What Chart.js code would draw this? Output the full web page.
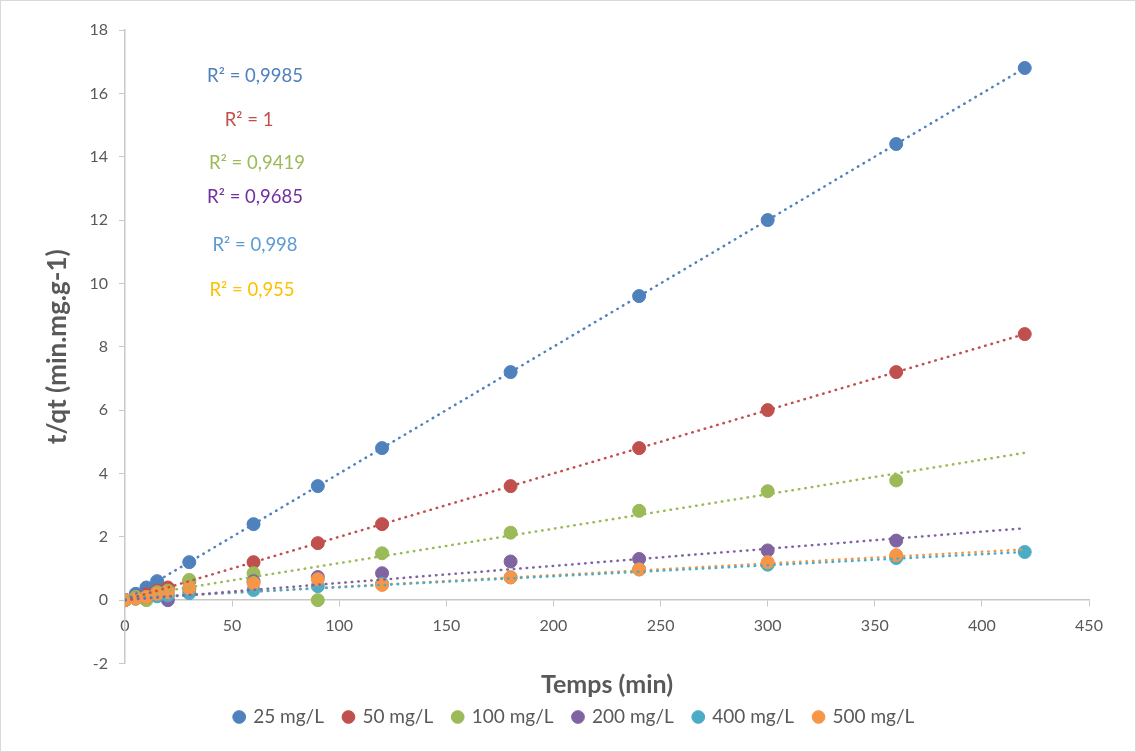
<!DOCTYPE html>
<html>
<head>
<meta charset="utf-8">
<script src="https://cdn.jsdelivr.net/npm/chart.js@4/dist/chart.umd.min.js"></script>
<style>
  html, body { margin: 0; padding: 0; background: #fff; }
  #wrap { width: 1136px; height: 752px; position: relative; }
</style>
</head>
<body>
<div id="wrap"><canvas id="kinChart" width="1136" height="752"></canvas></div>
<script>
// temps de contact (min)
const temps = [0, 5, 10, 15, 20, 30, 60, 90, 120, 180, 240, 300, 360, 420];

// t/qt pour chaque concentration initiale (null = pas de point)
const c25  = [0, 0.2, 0.4, 0.6, null, 1.2, 2.4, 3.6, 4.8, 7.2, 9.6, 12, 14.4, 16.8];
const c50  = [0, 0.1, 0.2, 0.3, 0.4, 0.6, 1.2, 1.8, 2.4, 3.6, 4.8, 6, 7.2, 8.4];
const c100 = [0, 0.1, 0, 0.25, 0.3, 0.64, 0.85, 0, 1.48, 2.13, 2.82, 3.44, 3.78, null];
const c200 = [0, 0.05, 0.1, 0.15, 0, 0.35, 0.6, 0.73, 0.85, 1.22, 1.3, 1.57, 1.88, null];
const c400 = [0, 0.05, 0.1, 0.12, 0.15, 0.22, 0.32, 0.44, 0.52, 0.72, 0.97, 1.12, 1.33, 1.52];
const c500 = [0, 0.05, 0.1, 0.2, 0.25, 0.38, 0.54, 0.66, 0.48, 0.72, 0.97, 1.2, 1.42, null];

const seriesNames = ['25 mg/L', '50 mg/L', '100 mg/L', '200 mg/L', '400 mg/L', '500 mg/L'];
const seriesColors = ['#4F81BD', '#C0504D', '#9BBB59', '#8064A2', '#4BACC6', '#F79646'];

// courbes de tendance linéaires : extrémités
const trendX    = [0, 420];
const trend25   = [0, 16.8];
const trend50   = [0, 8.4];
const trend100  = [0.08, 4.65];
const trend200  = [0, 2.27];
const trend400  = [0.06, 1.52];
const trend500  = [0.05, 1.6];

// étiquettes R² (position en unités des axes)
const r2Texts  = ['R² = 0,9985', 'R² = 1', 'R² = 0,9419', 'R² = 0,9685', 'R² = 0,998', 'R² = 0,955'];
const r2Colors = ['#4F81BD', '#C0504D', '#9BBB59', '#7030A0', '#5B9BD5', '#FFC000'];
const r2X = [60.7, 57.9, 61.6, 60.7, 60.7, 59.3];
const r2Y = [16.55, 15.16, 13.8, 12.73, 11.2, 9.79];

const FONT = "Lato, 'Open Sans', sans-serif";
const GREY = '#595959';

const values = [c25, c50, c100, c200, c400, c500];
const trends = [trend25, trend50, trend100, trend200, trend400, trend500];

const toPoints = arr => temps.map((t, i) => ({ x: t, y: arr[i] })).filter(p => p.y !== null);

const datasets = [];
values.forEach((arr, i) => {
  datasets.push({
    label: seriesNames[i],
    data: toPoints(arr),
    backgroundColor: seriesColors[i],
    borderColor: seriesColors[i],
    borderWidth: 1,
    pointRadius: 6.5,
    pointHoverRadius: 6.5,
    showLine: false,
    order: 6 - i
  });
});
trends.forEach((tr, i) => {
  datasets.push({
    label: 'Linéaire (' + seriesNames[i] + ')',
    data: trendX.map((x, k) => ({ x: x, y: tr[k] })),
    borderColor: seriesColors[i],
    borderWidth: 2.5,
    borderDash: [0.5, 6],
    borderCapStyle: 'round',
    pointRadius: 0,
    showLine: true,
    fill: false,
    order: 0
  });
});

// fond, cadre et étiquettes R²
const decor = {
  id: 'decor',
  beforeDraw(chart) {
    const ctx = chart.ctx;
    ctx.save();
    ctx.fillStyle = '#fff';
    ctx.fillRect(0, 0, chart.width, chart.height);
    ctx.strokeStyle = '#d9d9d9';
    ctx.lineWidth = 1;
    ctx.strokeRect(0.5, 0.5, chart.width - 1, chart.height - 1);
    ctx.restore();
  },
  afterDraw(chart) {
    const ctx = chart.ctx;
    const xs = chart.scales.x, ys = chart.scales.y;
    ctx.save();
    ctx.textAlign = 'center';
    ctx.textBaseline = 'middle';
    ctx.font = '18.5px ' + FONT;
    r2Texts.forEach((txt, i) => {
      ctx.fillStyle = r2Colors[i];
      ctx.fillText(txt, xs.getPixelForValue(r2X[i]), ys.getPixelForValue(r2Y[i]));
    });
    ctx.restore();
  }
};

new Chart(document.getElementById('kinChart'), {
  type: 'scatter',
  data: { datasets: datasets },
  plugins: [decor],
  options: {
    responsive: false,
    animation: false,
    layout: { padding: { top: 30, right: 47, bottom: 15.5, left: 60 } },
    plugins: {
      tooltip: { enabled: false },
      title: {
        display: true,
        text: 'Temps (min)',
        position: 'bottom',
        fullSize: false,
        weight: 500,
        color: GREY,
        font: { family: FONT, size: 25, weight: 'bold' },
        padding: { top: 6, bottom: -12 }
      },
      legend: {
        position: 'bottom',
        labels: {
          usePointStyle: true,
          pointStyle: 'circle',
          boxWidth: 9,
          boxHeight: 9,
          padding: 20,
          color: GREY,
          font: { family: FONT, size: 19 },
          filter: item => item.datasetIndex < 6,
          sort: (a, b) => a.datasetIndex - b.datasetIndex
        }
      }
    },
    scales: {
      x: {
        type: 'linear',
        position: { y: 0 },
        min: 0,
        max: 450,
        ticks: { stepSize: 50, color: GREY, font: { family: FONT, size: 16 }, padding: 10 },
        grid: { drawOnChartArea: false, drawTicks: true, tickLength: 6, color: '#c8c8c8' },
        border: { color: '#c8c8c8', width: 1.5 }
      },
      y: {
        type: 'linear',
        min: -2,
        max: 18,
        ticks: { stepSize: 2, color: GREY, font: { family: FONT, size: 16 }, padding: 11 },
        grid: { drawOnChartArea: false, drawTicks: true, tickLength: 6, color: '#c8c8c8' },
        border: { color: '#c8c8c8', width: 1.5 },
        title: {
          display: true,
          text: 't/qt (min.mg.g-1)',
          color: GREY,
          font: { family: FONT, size: 26, weight: 'bold' },
          padding: { top: -17.6, bottom: 0 }
        },
        afterFit(scale) { scale.width = 65; }
      }
    }
  }
});
</script>
</body>
</html>
